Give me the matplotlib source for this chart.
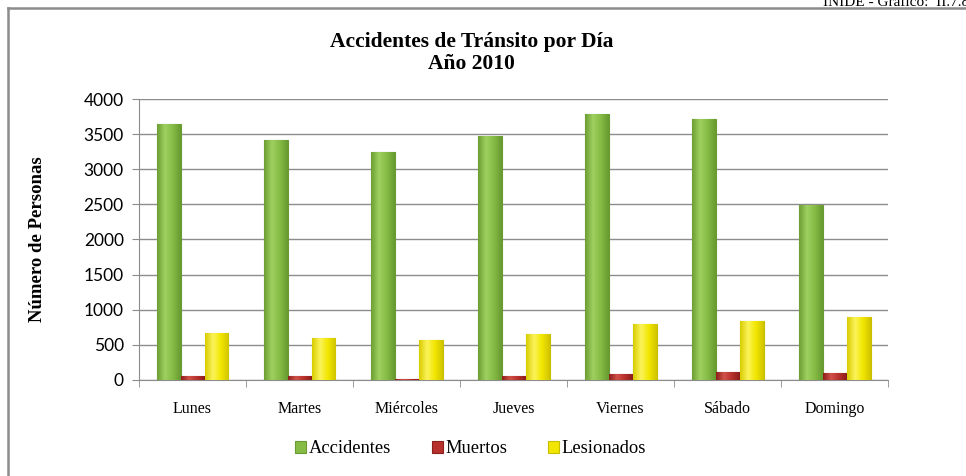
import numpy as np
import matplotlib
matplotlib.use('Agg')
import matplotlib.pyplot as plt
from matplotlib.lines import Line2D
from matplotlib.colors import LinearSegmentedColormap

dias = ['Lunes', 'Martes', 'Miércoles', 'Jueves', 'Viernes', 'Sábado', 'Domingo']
accidentes = [3650, 3410, 3250, 3470, 3780, 3720, 2490]
muertos = [60, 55, 20, 50, 90, 110, 105]
lesionados = [670, 600, 570, 660, 800, 840, 890]

serif = 'Liberation Serif'

fig = plt.figure(figsize=(9.66, 4.76), dpi=100)
ax = fig.add_axes([0.1439, 0.2017, 0.7755, 0.5903])

x = np.arange(len(dias))
w = 0.224

series = [
    (accidentes, -w, '#86bb45', '#6a9a32', ['#6c9e34', '#9fd060', '#86bb45', '#679a30'], 'Accidentes'),
    (muertos, 0, '#b8302c', '#8a1f1c', ['#8e1f1c', '#d05048', '#b8302c', '#8a1d1a'], 'Muertos'),
    (lesionados, w, '#f2e600', '#c8be00', ['#d8cc00', '#fbf35a', '#f2e600', '#d0c400'], 'Lesionados'),
]
grad = np.linspace(0, 1, 64).reshape(1, -1)
for vals, off, fc, ec, gcols, lab in series:
    bars = ax.bar(x + off, vals, w, color=fc, edgecolor=ec, linewidth=0.8, zorder=3, label=lab)
    cmap = LinearSegmentedColormap.from_list(lab, gcols)
    for b in bars:
        x0, y0 = b.get_x(), b.get_y()
        im = ax.imshow(grad, cmap=cmap, aspect='auto', zorder=3.5,
                       extent=(x0, x0 + b.get_width(), y0, y0 + b.get_height()))
        im.set_clip_path(b)

ax.set_xlim(-0.5, len(dias) - 0.5)
ax.set_ylim(0, 4000)
ax.set_yticks(range(0, 4001, 500))
ax.yaxis.grid(True, color='#8c8c8c', linewidth=1.0, zorder=0)

ax.set_xticks(x)
ax.set_xticklabels(dias, fontfamily=serif, fontsize=11.5)
ax.set_xticks(np.arange(-0.5, len(dias), 1), minor=True)
ax.tick_params(axis='x', which='major', length=0, pad=15)
ax.tick_params(axis='x', which='minor', length=5, color='#8c8c8c', direction='out')
ax.tick_params(axis='y', length=5, color='#8c8c8c', labelsize=12.5, pad=6)
for t in ax.get_yticklabels():
    t.set_fontfamily('Lato')

for s in ['top', 'right']:
    ax.spines[s].set_visible(False)
ax.spines['left'].set_color('#8c8c8c')
ax.spines['bottom'].set_color('#8c8c8c')

ax.set_ylabel('Número de Personas', fontfamily=serif, fontweight='bold', fontsize=13.5)
ax.yaxis.set_label_coords(-0.124, 0.5)

fig.text(0.488, 0.888, 'Accidentes de Tránsito por Día\nAño 2010', ha='center', va='center',
         fontfamily=serif, fontweight='bold', fontsize=15.5, linespacing=1.15)

fig.text(1.003, 0.995, 'INIDE - Gráfico:  II.7.8', ha='right', va='center',
         fontfamily=serif, fontsize=11)

fig.legend(loc='center', bbox_to_anchor=(0.487, 0.057), ncol=3, frameon=False,
           prop={'family': serif, 'size': 13.3}, handlelength=0.6, handleheight=0.6,
           handletextpad=0.15, columnspacing=2.2)

# chart frame
fig.add_artist(Line2D([8 / 966, 1.0], [1 - 8 / 476, 1 - 8 / 476], transform=fig.transFigure,
                      color='#8c8c8c', linewidth=1.8))
fig.add_artist(Line2D([8 / 966, 8 / 966], [0, 1 - 8 / 476], transform=fig.transFigure,
                      color='#8c8c8c', linewidth=1.8))

fig.savefig('out.png', dpi=100)
